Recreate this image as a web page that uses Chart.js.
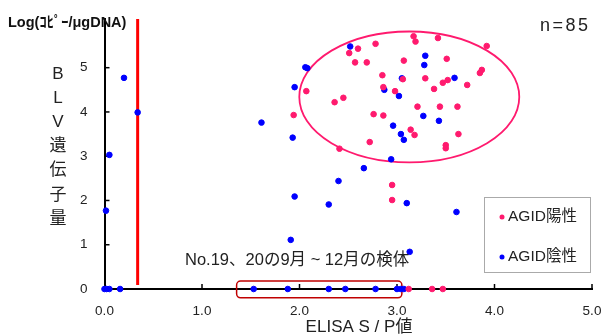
<!DOCTYPE html>
<html>
<head>
<meta charset="utf-8">
<script src="https://cdn.jsdelivr.net/npm/chart.js@4"></script>
<style>
  html, body { margin: 0; padding: 0; background: #fff; }
  #wrap { width: 601px; height: 336px; }
</style>
</head>
<body>
<div id="wrap"><canvas id="chart" width="601" height="336"></canvas></div>
<script>
// AGID positive (pink)
const posX = [3.17, 3.19, 3.42, 2.78, 2.60, 2.51, 2.57, 2.69, 3.07, 3.51, 3.92, 3.87, 3.85, 2.85, 3.06,
              3.29, 3.52, 3.47, 3.72, 3.38, 2.86, 2.98, 2.07, 2.45, 2.36, 3.21, 3.44, 3.62, 1.94, 2.76,
              2.86, 3.14, 3.18, 3.63, 2.72, 3.50, 3.50, 2.41, 2.95, 2.95, 3.12, 3.36, 3.47];
const posY = [5.71, 5.59, 5.67, 5.54, 5.43, 5.33, 5.12, 5.12, 5.16, 5.20, 5.49, 4.95, 4.88, 4.83, 4.74,
              4.76, 4.72, 4.66, 4.61, 4.52, 4.56, 4.47, 4.47, 4.32, 4.22, 4.12, 4.12, 4.12, 3.93, 3.95,
              3.92, 3.60, 3.48, 3.50, 3.32, 3.25, 3.18, 3.17, 2.35, 2.01, 0, 0, 0];

// AGID negative (blue)
const negX = [0.20, 0.34, 0.05, 0.015, 1.61, 1.95, 1.95, 1.91, 1.93, 2.06, 2.08, 2.52, 3.29, 3.28, 3.05,
              2.87, 3.02, 3.59, 3.27, 3.43, 2.96, 3.04, 3.07, 2.94, 2.66, 2.40, 2.30, 3.10, 3.61, 3.13,
              0.0, 0.02, 0.05, 0.16, 1.53, 1.88, 2.30, 2.47, 2.78, 3.00, 3.04, 3.07];
const negY = [4.77, 3.99, 3.03, 1.77, 3.76, 4.56, 2.09, 1.11, 3.42, 5.01, 4.99, 5.48, 5.27, 5.06, 4.76,
              4.50, 4.36, 4.77, 3.91, 3.80, 3.69, 3.50, 3.37, 2.93, 2.73, 2.44, 1.91, 1.94, 1.74, 0.84,
              0, 0, 0, 0, 0, 0, 0, 0, 0, 0, 0, 0];

const xTicks = [0, 1, 2, 3, 4, 5];
const yTicks = [0, 1, 2, 3, 4, 5];
const seriesNames = ['AGID陽性', 'AGID陰性'];
const cutoff = 0.34;

const PINK = '#FF1A6E';
const BLUE = '#0000FF';
const FONT = "'Liberation Sans', 'Noto Sans CJK JP', sans-serif";

function toPoints(xs, ys) {
    return xs.map((x, i) => ({ x: x, y: ys[i] }));
}

// extra drawings: cutoff line, ellipse, box, texts, legend, inner ticks
const overlay = {
    id: 'overlay',
    beforeDatasetsDraw(chart) {
        const { ctx, chartArea, scales } = chart;
        const xs = scales.x, ys = scales.y;
        ctx.save();
        // cutoff line
        ctx.strokeStyle = '#FF0000';
        ctx.lineWidth = 3;
        ctx.beginPath();
        ctx.moveTo(xs.getPixelForValue(cutoff), chartArea.top);
        ctx.lineTo(xs.getPixelForValue(cutoff), ys.getPixelForValue(0.09));
        ctx.stroke();

        // ellipse around positive cluster
        const cx = xs.getPixelForValue(3.126), cy = ys.getPixelForValue(4.34);
        const rx = xs.getPixelForValue(3.126 + 1.128) - cx;
        const ry = cy - ys.getPixelForValue(4.34 + 1.478);
        ctx.strokeStyle = PINK;
        ctx.lineWidth = 1.8;
        ctx.beginPath();
        ctx.ellipse(cx, cy, rx, ry, 0, 0, Math.PI * 2);
        ctx.stroke();

        // box around samples No.19, 20
        const bx1 = xs.getPixelForValue(1.355), bx2 = xs.getPixelForValue(3.05);
        const by1 = ys.getPixelForValue(0.18), by2 = ys.getPixelForValue(-0.2);
        ctx.strokeStyle = '#C00000';
        ctx.lineWidth = 1.5;
        ctx.beginPath();
        ctx.roundRect(bx1, by1, bx2 - bx1, by2 - by1, 4);
        ctx.stroke();

        // inner tick marks
        ctx.strokeStyle = '#000';
        ctx.lineWidth = 1.5;
        yTicks.slice(1).forEach(v => {
            const py = ys.getPixelForValue(v);
            ctx.beginPath();
            ctx.moveTo(chartArea.left, py);
            ctx.lineTo(chartArea.left + 5, py);
            ctx.stroke();
        });
        xTicks.slice(1).forEach(v => {
            const px = xs.getPixelForValue(v);
            ctx.beginPath();
            ctx.moveTo(px, chartArea.bottom);
            ctx.lineTo(px, chartArea.bottom - 5);
            ctx.stroke();
        });
        ctx.restore();
    },
    afterDraw(chart) {
        const { ctx } = chart;
        ctx.save();
        ctx.fillStyle = '#222';
        ctx.textBaseline = 'middle';

        // y unit label
        ctx.font = 'bold 14.5px ' + FONT;
        ctx.textAlign = 'left';
        ctx.fillStyle = '#111';
        ctx.fillText('Log(ｺﾋﾟｰ/μgDNA)', 8, 23);
        ctx.fillStyle = '#222';

        // vertical y title
        ctx.font = '17px ' + FONT;
        ctx.textAlign = 'center';
        const chars = ['B', 'L', 'V', '遺', '伝', '子', '量'];
        chars.forEach((c, i) => ctx.fillText(c, 58, 74 + i * 24.2));

        // x title
        ctx.font = '17px ' + FONT;
        ctx.fillText('ELISA S / P値', 359, 327);

        // n
        ctx.font = '18px ' + FONT;
        ctx.letterSpacing = '2.5px';
        ctx.textAlign = 'left';
        ctx.fillText('n=85', 540, 26);
        ctx.letterSpacing = '0px';

        // annotation
        ctx.font = '16.5px ' + FONT;
        ctx.fillText('No.19、20の9月 ~ 12月の検体', 185, 260);

        // legend
        ctx.fillStyle = '#fff';
        ctx.fillRect(484, 197, 107, 76);
        ctx.strokeStyle = '#AAAAAA';
        ctx.lineWidth = 1;
        ctx.strokeRect(484.5, 197.5, 106, 75);
        [PINK, BLUE].forEach((col, i) => {
            const y = 217 + i * 40;
            ctx.fillStyle = col;
            ctx.beginPath();
            ctx.arc(502, y, 2.5, 0, Math.PI * 2);
            ctx.fill();
            ctx.fillStyle = '#222';
            ctx.font = '15.5px ' + FONT;
            ctx.fillText(seriesNames[i], 508, y);
        });
        ctx.restore();
    }
};

new Chart(document.getElementById('chart'), {
    type: 'scatter',
    data: {
        datasets: [
            {
                label: seriesNames[0],
                data: toPoints(posX, posY),
                backgroundColor: PINK,
                borderColor: PINK,
                pointRadius: 2.8,
                clip: false
            },
            {
                label: seriesNames[1],
                data: toPoints(negX, negY),
                backgroundColor: BLUE,
                borderColor: BLUE,
                pointRadius: 2.8,
                clip: false
            }
        ]
    },
    options: {
        responsive: false,
        animation: false,
        layout: { padding: { top: 19, right: 9, left: 0, bottom: 0 } },
        plugins: {
            legend: { display: false },
            tooltip: { enabled: false }
        },
        scales: {
            x: {
                type: 'linear',
                min: 0,
                max: 5,
                afterBuildTicks: s => { s.ticks = xTicks.map(v => ({ value: v })); },
                afterFit: s => { s.height = 47; s.paddingLeft = 0; s.paddingRight = 0; },
                grid: { display: false, drawTicks: false },
                border: { display: true, color: '#000', width: 2 },
                ticks: {
                    padding: 14,
                    color: '#222',
                    font: { size: 13.5, family: FONT },
                    callback: v => v.toFixed(1)
                }
            },
            y: {
                type: 'linear',
                min: 0,
                max: 6.1,
                afterBuildTicks: s => { s.ticks = yTicks.map(v => ({ value: v })); },
                afterFit: s => { s.width = 104.5; s.paddingTop = 0; s.paddingBottom = 0; },
                grid: { display: false, drawTicks: false },
                border: { display: true, color: '#000', width: 2 },
                ticks: {
                    padding: 17,
                    color: '#222',
                    font: { size: 13.5, family: FONT },
                    callback: v => String(v)
                }
            }
        }
    },
    plugins: [overlay]
});
</script>
</body>
</html>
